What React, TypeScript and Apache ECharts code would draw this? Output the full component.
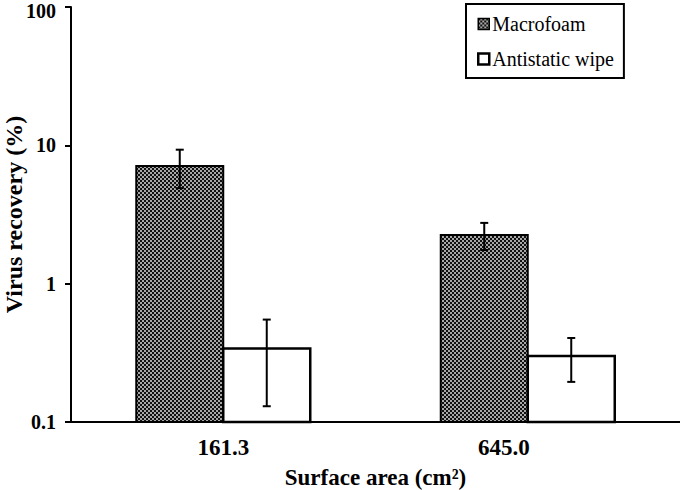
import React, { useEffect, useRef } from "react";
import * as echarts from "echarts";

const categories = ["161.3", "645.0"];
const macrofoam = [7.1, 2.25];
const macrofoamErr = [2.2, 0.5];
const wipe = [0.34, 0.3];
const wipeErr = [0.21, 0.105];
const yTicks = [0.1, 1, 10, 100];
const yMin = 0.1;

const FONT = "Liberation Serif";

function makePattern(): HTMLCanvasElement {
  const c = document.createElement("canvas");
  c.width = 4;
  c.height = 4;
  const ctx = c.getContext("2d")!;
  ctx.fillStyle = "#a8a8a8";
  ctx.fillRect(0, 0, 4, 4);
  ctx.fillStyle = "#111111";
  ctx.fillRect(0, 0, 2, 2);
  ctx.fillRect(2, 2, 2, 2);
  return c;
}

const BAR_W = 87;

function barSeries(name: string, values: number[], offset: number, style: any) {
  return {
    name,
    type: "custom",
    itemStyle: style,
    data: values.map((v, i) => [i, v]),
    encode: { x: 0, y: 1 },
    renderItem: (params: any, api: any) => {
      const idx = api.value(0);
      const top = api.coord([idx, api.value(1)]);
      const base = api.coord([idx, yMin]);
      const cx = top[0] + offset;
      return {
        type: "rect",
        shape: { x: cx - BAR_W / 2, y: top[1], width: BAR_W, height: base[1] - top[1] },
        style: { fill: style.color, stroke: style.borderColor, lineWidth: style.borderWidth },
      };
    },
  };
}

function errorSeries(values: number[], errs: number[], offset: number) {
  return {
    type: "custom",
    silent: true,
    z: 10,
    data: values.map((v, i) => [i, v + errs[i], Math.max(v - errs[i], 0.0001)]),
    encode: { x: 0, y: [1, 2] },
    renderItem: (params: any, api: any) => {
      const idx = api.value(0);
      const top = api.coord([idx, api.value(1)]);
      const bot = api.coord([idx, api.value(2)]);
      const x = top[0] + offset;
      const cap = 4;
      const style = { stroke: "#000", lineWidth: 2 };
      return {
        type: "group",
        children: [
          { type: "line", shape: { x1: x, y1: top[1], x2: x, y2: bot[1] }, style },
          { type: "line", shape: { x1: x - cap, y1: top[1], x2: x + cap, y2: top[1] }, style },
          { type: "line", shape: { x1: x - cap, y1: bot[1], x2: x + cap, y2: bot[1] }, style },
        ],
      };
    },
  };
}

export default function App() {
  const ref = useRef<HTMLDivElement>(null);
  useEffect(() => {
    if (!ref.current) return;
    const chart = echarts.init(ref.current, undefined, { renderer: "svg" });
    const pattern = { image: makePattern(), repeat: "repeat" } as any;
    const macroStyle = { color: pattern, borderColor: "#000", borderWidth: 2 };
    const wipeStyle = { color: "#fff", borderColor: "#000", borderWidth: 2.5 };
    const tickLabelStyle = { fontFamily: FONT, fontSize: 20, fontWeight: "bold", color: "#000" };
    chart.setOption({
      animation: false,
      backgroundColor: "#fff",
      textStyle: { fontFamily: FONT },
      grid: { left: 71, right: 0, top: 7, bottom: 68, containLabel: false, outerBoundsMode: "none" },
      legend: {
        orient: "vertical",
        left: 466,
        top: 4,
        padding: [10, 10, 9, 11],
        itemGap: 15,
        itemWidth: 11,
        itemHeight: 11,
        icon: "rect",
        borderColor: "#000",
        borderWidth: 2,
        textStyle: { fontFamily: FONT, fontSize: 20, color: "#000", padding: [0, 0, 0, -2] },
        data: [
          { name: "Macrofoam", itemStyle: { color: pattern, borderColor: "#000", borderWidth: 1.5 } },
          { name: "Antistatic wipe", itemStyle: { color: "#fff", borderColor: "#000", borderWidth: 2.5 } },
        ],
      },
      xAxis: {
        type: "category",
        data: categories,
        name: "Surface area (cm²)",
        nameLocation: "middle",
        nameGap: 44,
        nameMoveOverlap: false,
        nameTextStyle: { fontFamily: FONT, fontSize: 23, fontWeight: "bold", color: "#000" },
        axisLine: { lineStyle: { color: "#000", width: 2 } },
        axisTick: { show: false },
        axisLabel: {
          margin: 14,
          fontFamily: FONT,
          fontSize: 23,
          fontWeight: "bold",
          color: "#000",
          formatter: (v: string, i: number) => (i === 1 ? "{s|" + v + "}" : v),
          rich: {
            s: { fontFamily: FONT, fontSize: 23, fontWeight: "bold", color: "#000", padding: [0, 48, 0, 0] },
          },
        },
      },
      yAxis: {
        type: "log",
        logBase: 10,
        min: 0.1,
        max: 100,
        name: "Virus recovery (%)",
        nameLocation: "middle",
        nameGap: 45,
        nameMoveOverlap: false,
        nameTextStyle: { fontFamily: FONT, fontSize: 24, fontWeight: "bold", color: "#000" },
        axisLine: { show: true, lineStyle: { color: "#000", width: 2 } },
        axisTick: { show: true, length: 6, lineStyle: { color: "#000", width: 2 } },
        splitLine: { show: false },
        axisLabel: {
          margin: 15,
          ...tickLabelStyle,
          formatter: (v: number) => {
            const t = yTicks.find((k) => Math.abs(k - v) / k < 1e-6);
            if (t === undefined) return "";
            return t === yTicks[yTicks.length - 1] ? "{top|" + t + "}" : String(t);
          },
          rich: {
            top: { ...tickLabelStyle, padding: [7, 0, 0, 0] },
          },
        },
      },
      series: [
        barSeries("Macrofoam", macrofoam, -BAR_W / 2, macroStyle),
        barSeries("Antistatic wipe", wipe, BAR_W / 2, wipeStyle),
        errorSeries(macrofoam, macrofoamErr, -BAR_W / 2),
        errorSeries(wipe, wipeErr, BAR_W / 2),
      ],
    });
    return () => chart.dispose();
  }, []);
  return <div ref={ref} style={{ width: 680, height: 490, position: "absolute", left: 0, top: 0 }} />;
}
